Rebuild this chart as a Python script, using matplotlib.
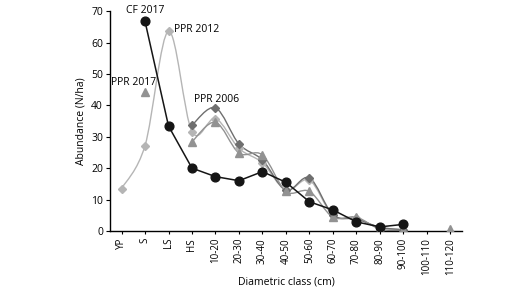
import matplotlib.pyplot as plt
import numpy as np
from matplotlib.path import Path
from matplotlib.patches import PathPatch

plt.rcParams['font.family'] = ['Open Sans', 'DejaVu Sans']

# diametric classes
classes = ['YP', 'S', 'LS', 'HS', '10-20', '20-30', '30-40', '40-50', '50-60',
           '60-70', '70-80', '80-90', '90-100', '100-110', '110-120']

nan = np.nan
cf2017 = [nan, 66.7, 33.4, 20.0, 17.3, 16.0, 18.9, 15.5, 9.3, 6.7, 2.9, 1.3, 2.1, nan, nan]
ppr2012 = [13.5, 27.2, 63.6, 31.6, 35.8, 26.3, 21.7, 13.0, 16.2, 5.0, 4.0, 1.0, 0.4, nan, nan]
ppr2006 = [nan, nan, nan, 33.7, 39.2, 27.7, 22.6, 13.0, 16.9, 5.2, 3.8, 1.2, 0.4, nan, nan]
ppr2017 = [nan, 44.2, nan, 28.4, 34.6, 24.8, 24.2, 12.6, 12.6, 4.4, 4.4, 0.6, 0.2, nan, 0.5]


def smooth_line(ax, x, y, color, lw=1.0):
    # Excel-like smoothed line: cubic Bezier through the points of each run
    x = np.asarray(x, float)
    y = np.asarray(y, float)
    ok = ~np.isnan(y)
    runs = []
    cur = []
    for i in range(len(y)):
        if ok[i]:
            cur.append(i)
        else:
            if len(cur) > 1:
                runs.append(cur)
            cur = []
    if len(cur) > 1:
        runs.append(cur)
    for r in runs:
        px, py = x[r], y[r]
        n = len(px)
        verts = [(px[0], py[0])]
        codes = [Path.MOVETO]
        for i in range(n - 1):
            i0 = max(i - 1, 0)
            i3 = min(i + 2, n - 1)
            c1 = (px[i] + (px[i + 1] - px[i0]) / 6, py[i] + (py[i + 1] - py[i0]) / 6)
            c2 = (px[i + 1] - (px[i3] - px[i]) / 6, py[i + 1] - (py[i3] - py[i]) / 6)
            verts += [c1, c2, (px[i + 1], py[i + 1])]
            codes += [Path.CURVE4] * 3
        ax.add_patch(PathPatch(Path(verts, codes), fill=False, edgecolor=color, lw=lw))


fig = plt.figure(figsize=(5.28, 2.92), dpi=100)
ax = fig.add_axes([0.208, 0.209, 0.667, 0.753])
x = np.arange(len(classes))

c12, c06, c17 = '#b5b5b5', '#6f6f6f', '#929292'
smooth_line(ax, x, ppr2012, c12)
ax.plot(x, ppr2012, ls='none', marker='D', ms=4.2, color=c12, zorder=3)
smooth_line(ax, x, ppr2006, c06)
ax.plot(x, ppr2006, ls='none', marker='D', ms=4.2, color=c06, zorder=3)
smooth_line(ax, x, ppr2017, c17)
ax.plot(x, ppr2017, ls='none', marker='^', ms=5.5, color=c17, zorder=3)
ax.plot(x, cf2017, color='#151515', lw=1.1, marker='o', ms=6.3, zorder=4)

ax.text(1, 68.5, 'CF 2017', fontsize=7.5, ha='center', va='bottom')
ax.text(2.25, 64.3, 'PPR 2012', fontsize=7.5, ha='left', va='center')
ax.text(0.5, 47.4, 'PPR 2017', fontsize=7.5, ha='center', va='center')
ax.text(4.05, 41.7, 'PPR 2006', fontsize=7.5, ha='center', va='center')

ax.set_xlim(-0.5, 14.5)
ax.set_ylim(0, 70)
ax.set_yticks(range(0, 71, 10))
ax.set_xticks(x)
ax.set_xticklabels(classes, rotation=90, fontsize=7)
ax.tick_params(axis='y', labelsize=7.5, length=3, width=0.8, pad=2)
ax.tick_params(axis='x', length=2, width=0.8, pad=3)
for s in ['top', 'right']:
    ax.spines[s].set_visible(False)
for s in ['left', 'bottom']:
    ax.spines[s].set_linewidth(1.0)
ax.set_xlabel('Diametric class (cm)', fontsize=7.5, labelpad=1)
ax.set_ylabel('Abundance (N/ha)', fontsize=7.5, labelpad=3)

fig.savefig('out.png', dpi=100)
